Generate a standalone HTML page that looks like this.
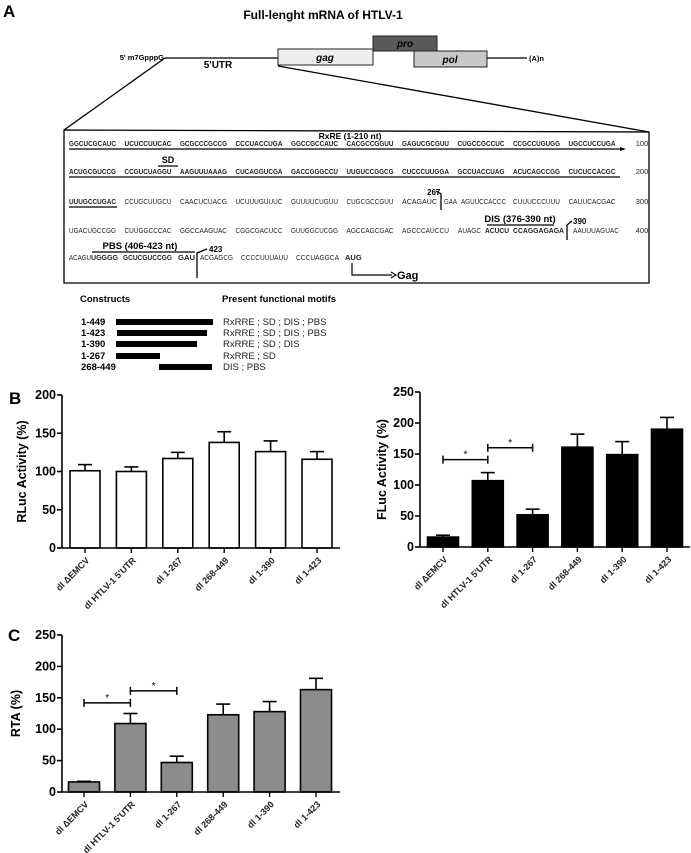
<!DOCTYPE html>
<html><head><meta charset="utf-8"><style>
html,body{margin:0;padding:0;background:#fff;}
svg{display:block;font-family:"Liberation Sans",sans-serif;}
.seq{font-size:7.5px;fill:#222;}
.b{font-weight:bold;}
.lbl{font-weight:bold;font-size:12.5px;}
.tk{font-weight:bold;font-size:12.5px;}
</style></head><body>
<svg id="fig" width="691" height="853" viewBox="0 0 691 853" xmlns="http://www.w3.org/2000/svg">
<text x="3" y="17" font-size="17" font-weight="bold">A</text>
<text x="323" y="19" font-size="12" font-weight="bold" text-anchor="middle">Full-lenght mRNA of  HTLV-1</text>
<g>
<text x="164" y="60" font-size="7.5" font-weight="bold" text-anchor="end">5' m7GpppG</text>
<line x1="165" y1="58" x2="278" y2="58" stroke="#000" stroke-width="1.3"/>
<text x="218" y="68" font-size="10" font-weight="bold" text-anchor="middle">5'UTR</text>
<rect x="373" y="36" width="64" height="15" fill="#595959" stroke="#222"/>
<text x="405" y="47" font-size="10" font-weight="bold" font-style="italic" text-anchor="middle">pro</text>
<rect x="278" y="49" width="95" height="16" fill="#eee" stroke="#222"/>
<text x="325" y="61" font-size="10" font-weight="bold" font-style="italic" text-anchor="middle">gag</text>
<rect x="414" y="51" width="73" height="16" fill="#c8c8c8" stroke="#222"/>
<text x="450" y="63" font-size="10" font-weight="bold" font-style="italic" text-anchor="middle">pol</text>
<line x1="487" y1="58" x2="527" y2="58" stroke="#000" stroke-width="1.3"/>
<text x="529" y="61" font-size="7.5" font-weight="bold">(A)n</text>
<line x1="165" y1="58" x2="64" y2="130" stroke="#000" stroke-width="1.3"/>
<line x1="278" y1="66" x2="649" y2="132" stroke="#000" stroke-width="1.3"/>
</g>
<path d="M64,130 L649,132 L649,283 L64,283 Z" fill="none" stroke="#000" stroke-width="1.3"/>
<g id="seqg"></g>
<g>
<text x="80" y="302" font-size="9.5" font-weight="bold">Constructs</text>
<text x="222" y="302" font-size="9.5" font-weight="bold">Present functional motifs</text>
<g font-size="9.5" font-weight="bold">
<text x="81" y="325">1-449</text><text x="81" y="336">1-423</text><text x="81" y="347">1-390</text><text x="81" y="359">1-267</text><text x="81" y="370">268-449</text></g>
<rect x="116" y="319" width="97" height="6" fill="#000"/>
<rect x="117" y="330" width="90" height="6" fill="#000"/>
<rect x="116" y="341" width="81" height="6" fill="#000"/>
<rect x="116" y="353" width="44" height="6" fill="#000"/>
<rect x="159" y="364" width="53" height="6" fill="#000"/>
<g font-size="9.5" fill="#222">
<text x="223" y="325">RxRRE ; SD ; DIS ; PBS</text><text x="223" y="336">RxRRE ; SD ; DIS ; PBS</text><text x="223" y="347">RxRRE ; SD ; DIS</text><text x="223" y="359">RxRRE ; SD</text><text x="223" y="370">DIS ; PBS</text></g>
</g>
<text x="9" y="404" font-size="17" font-weight="bold">B</text>
<text x="8" y="641" font-size="17" font-weight="bold">C</text>
<g id="charts"></g>
</svg>
<script>
const NS="http://www.w3.org/2000/svg";
function mk(tag,attrs,parent,txt){const e=document.createElementNS(NS,tag);for(const k in attrs)e.setAttribute(k,attrs[k]);if(txt!==undefined)e.textContent=txt;parent.appendChild(e);return e;}
// ---- sequence ----
const sg=document.getElementById('seqg');
const rows=[
 {y:146,bold:true,g:["GGCUCGCAUC","UCUCCUUCAC","GCGCCCGCCG","CCCUACCUGA","GGCCGCCAUC","CACGCCGGUU","GAGUCGCGUU","CUGCCGCCUC","CCGCCUGUGG","UGCCUCCUGA"],n:"100"},
 {y:174,bold:true,g:["ACUGCGUCCG","CCGUCUAGGU","AAGUUUAAAG","CUCAGGUCGA","GACCGGGCCU","UUGUCCGGCG","CUCCCUUGGA","GCCUACCUAG","ACUCAGCCGG","CUCUCCACGC"],n:"200"},
 {y:204,bold:false,g:["UUUGCCUGAC","CCUGCUUGCU","CAACUCUACG","UCUUUGUUUC","GUUUUCUGUU","CUGCGCCGUU",null,null,"CUUUCCCUUU","CAUUCACGAC"],n:"300"},
 {y:233,bold:false,g:["UGACUGCCGG","CUUGGCCCAC","GGCCAAGUAC","CGGCGACUCC","GUUGGCUCGG","AGCCAGCGAC","AGCCCAUCCU",null,null,null],n:"400"}];
rows.forEach((r,ri)=>{r.g.forEach((s,i)=>{if(!s)return;const b=r.bold||(ri==2&&i==0);
 mk('text',{x:69+55.5*i,y:r.y,class:'seq'+(b?' b':''),textLength:47,lengthAdjust:'spacingAndGlyphs'},sg,s);});
 mk('text',{x:642,y:r.y,class:'seq','text-anchor':'middle'},sg,r.n);});
mk('text',{x:402,y:204,class:'seq',textLength:35,lengthAdjust:'spacingAndGlyphs'},sg,'ACAGAUC');
mk('text',{x:444,y:204,class:'seq',textLength:13,lengthAdjust:'spacingAndGlyphs'},sg,'GAA');
mk('text',{x:461,y:204,class:'seq',textLength:45,lengthAdjust:'spacingAndGlyphs'},sg,'AGUUCCACCC');
mk('text',{x:458,y:233,class:'seq',textLength:23,lengthAdjust:'spacingAndGlyphs'},sg,'AUAGC');
mk('text',{x:485,y:233,class:'seq b',textLength:24,lengthAdjust:'spacingAndGlyphs'},sg,'ACUCU');
mk('text',{x:513,y:233,class:'seq b',textLength:51,lengthAdjust:'spacingAndGlyphs'},sg,'CCAGGAGAGA');
mk('text',{x:573,y:233,class:'seq',textLength:46,lengthAdjust:'spacingAndGlyphs'},sg,'AAUUUAGUAC');
mk('text',{x:69,y:260,class:'seq',textLength:22,lengthAdjust:'spacingAndGlyphs'},sg,'ACAGU');
mk('text',{x:91,y:260,class:'seq b',textLength:27,lengthAdjust:'spacingAndGlyphs'},sg,'UGGGG');
mk('text',{x:123,y:260,class:'seq b',textLength:49,lengthAdjust:'spacingAndGlyphs'},sg,'GCUCGUCCGG');
mk('text',{x:178,y:260,class:'seq b',textLength:17,lengthAdjust:'spacingAndGlyphs'},sg,'GAU');
mk('text',{x:200,y:260,class:'seq',textLength:33,lengthAdjust:'spacingAndGlyphs'},sg,'ACGAGCG');
mk('text',{x:241,y:260,class:'seq',textLength:47,lengthAdjust:'spacingAndGlyphs'},sg,'CCCCUUUAUU');
mk('text',{x:296,y:260,class:'seq',textLength:43,lengthAdjust:'spacingAndGlyphs'},sg,'CCCUAGGCA');
mk('text',{x:345,y:260,class:'seq b'},sg,'AUG');
const L=(x1,y1,x2,y2,w)=>mk('line',{x1,y1,x2,y2,stroke:'#000','stroke-width':w||1},sg);
L(69,149,620,149,1.2);mk('path',{d:'M620,147 L626,149 L620,151 Z',fill:'#000'},sg);
L(69,177,620,177,1.2);L(69,207,117,207,1.2);
mk('text',{x:350,y:139,'font-size':8.5,'font-weight':'bold','text-anchor':'middle'},sg,'RxRE (1-210 nt)');
mk('text',{x:168,y:163,'font-size':9,'font-weight':'bold','text-anchor':'middle'},sg,'SD');
L(158,166,178,166,1.2);
mk('text',{x:427,y:195,'font-size':8,'font-weight':'bold'},sg,'267');
mk('path',{d:'M436,191 L441,194 L441,210',fill:'none',stroke:'#000','stroke-width':1.3},sg);
mk('text',{x:520,y:222,'font-size':9.5,'font-weight':'bold','text-anchor':'middle'},sg,'DIS (376-390 nt)');
L(487,225,554,225,1.2);
mk('text',{x:573,y:224,'font-size':8,'font-weight':'bold'},sg,'390');
mk('path',{d:'M572,221 L567,225 L567,240',fill:'none',stroke:'#000','stroke-width':1.3},sg);
mk('text',{x:140,y:249,'font-size':9.5,'font-weight':'bold','text-anchor':'middle'},sg,'PBS (406-423 nt)');
L(92,252,195,252,1.2);
mk('text',{x:209,y:252,'font-size':8,'font-weight':'bold'},sg,'423');
mk('path',{d:'M207,249 L197,253 L197,278',fill:'none',stroke:'#000','stroke-width':1.3},sg);
mk('path',{d:'M352,263 L352,275 L392,275',fill:'none',stroke:'#000','stroke-width':1.2},sg);
mk('path',{d:'M391,272 L396,275 L391,278',fill:'none',stroke:'#000','stroke-width':1.2},sg);
mk('text',{x:397,y:279,'font-size':11,'font-weight':'bold'},sg,'Gag');

// ---- chart data ----
const categories=["dl \u0394EMCV","dl HTLV-1 5'UTR","dl 1-267","dl 268-449","dl 1-390","dl 1-423"];
const rlucValues=[101,100,117,138,126,116];
const rlucErrors=[8,6,8,14,14,10];
const rlucTicks=[0,50,100,150,200];
const flucValues=[16,107,52,161,149,190];
const flucErrors=[3,13,9,21,21,19];
const flucTicks=[0,50,100,150,200,250];
const rtaValues=[16,109,47,123,128,163];
const rtaErrors=[1,16,10,17,16,18];
const rtaTicks=[0,50,100,150,200,250];
const flucSig=[[0,1,141],[1,2,160]];
const rtaSig=[[0,1,142],[1,2,161]];

const charts=document.getElementById('charts');
function chart(o){
 const g=mk('g',{},charts);
 
 
 const ymax=o.ticks[o.ticks.length-1];
 const y=v=>o.base-v*o.ppu;
 const cx=i=>o.c0+o.pitch*i;
 o.values.forEach((v,i)=>{
  const eb=mk('line',{x1:cx(i),x2:cx(i),y1:y(v),y2:y(v+o.errors[i]),stroke:'#000','stroke-width':1.6},g);
  
  
  const cap=mk('line',{x1:cx(i)-7,x2:cx(i)+7,y1:y(v+o.errors[i]),y2:y(v+o.errors[i]),stroke:'#000','stroke-width':1.6},g);
  
  
  const r=mk('rect',{x:cx(i)-o.bw/2,y:y(v),width:o.bw,height:v*o.ppu,fill:o.fill,stroke:'#000','stroke-width':1.6},g);
  
  
 });
 const ya=mk('line',{x1:o.ax,x2:o.ax,y1:o.base,y2:y(ymax),stroke:'#000','stroke-width':1.6},g);
 
 
 const xa=mk('line',{x1:o.ax,x2:o.xend,y1:o.base,y2:o.base,stroke:'#000','stroke-width':1.6},g);
 
 
 o.ticks.forEach(t=>{
  mk('line',{x1:o.ax-5,x2:o.ax,y1:y(t),y2:y(t),stroke:'#000','stroke-width':1.6},g);
  const tl=mk('text',{x:o.ax-6,y:y(t)+4,'text-anchor':'end',class:'tk'},g,String(t));
  
  
 });
 categories.forEach((c,i)=>{
  mk('line',{x1:cx(i),x2:cx(i),y1:o.base,y2:o.base+5,stroke:'#000','stroke-width':1.4},g);
  const t=mk('text',{x:0,y:0,'text-anchor':'end','font-size':9,'font-weight':'bold',fill:'#222',transform:`translate(${cx(i)+5},${o.base+13}) rotate(-45)`},g,c);
  
  
 });
 const yl=mk('text',{x:0,y:0,'text-anchor':'middle',class:'lbl',transform:`translate(${o.ylx},${o.base-ymax*o.ppu/2}) rotate(-90)`},g,o.ylabel);
 
 
 (o.sig||[]).forEach(s=>{
  const x1=cx(s[0]),x2=cx(s[1]),yy=y(s[2]);
  const sb=mk('path',{d:`M${x1},${yy-4}V${yy+4}M${x1},${yy}H${x2}M${x2},${yy-4}V${yy+4}`,fill:'none',stroke:'#000','stroke-width':1.5},g);
  
  
  mk('text',{x:(x1+x2)/2,y:yy-2,'text-anchor':'middle','font-size':10},g,'*');
 });
}
chart({name:'rluc-chart',values:rlucValues,errors:rlucErrors,ticks:rlucTicks,ax:62,base:548,ppu:0.765,c0:85,pitch:46.4,bw:30,fill:'#fff',xend:340,ylx:26,ylabel:'RLuc Activity (%)'});
chart({name:'fluc-chart',values:flucValues,errors:flucErrors,ticks:flucTicks,ax:420,base:547,ppu:0.62,c0:443,pitch:44.8,bw:31,fill:'#000',xend:690,ylx:386,ylabel:'FLuc Activity (%)',sig:flucSig});
chart({name:'rta-chart',values:rtaValues,errors:rtaErrors,ticks:rtaTicks,ax:62,base:792,ppu:0.628,c0:84,pitch:46.4,bw:31,fill:'#8c8c8c',xend:340,ylx:20,ylabel:'RTA (%)',sig:rtaSig});
</script>
</body></html>
